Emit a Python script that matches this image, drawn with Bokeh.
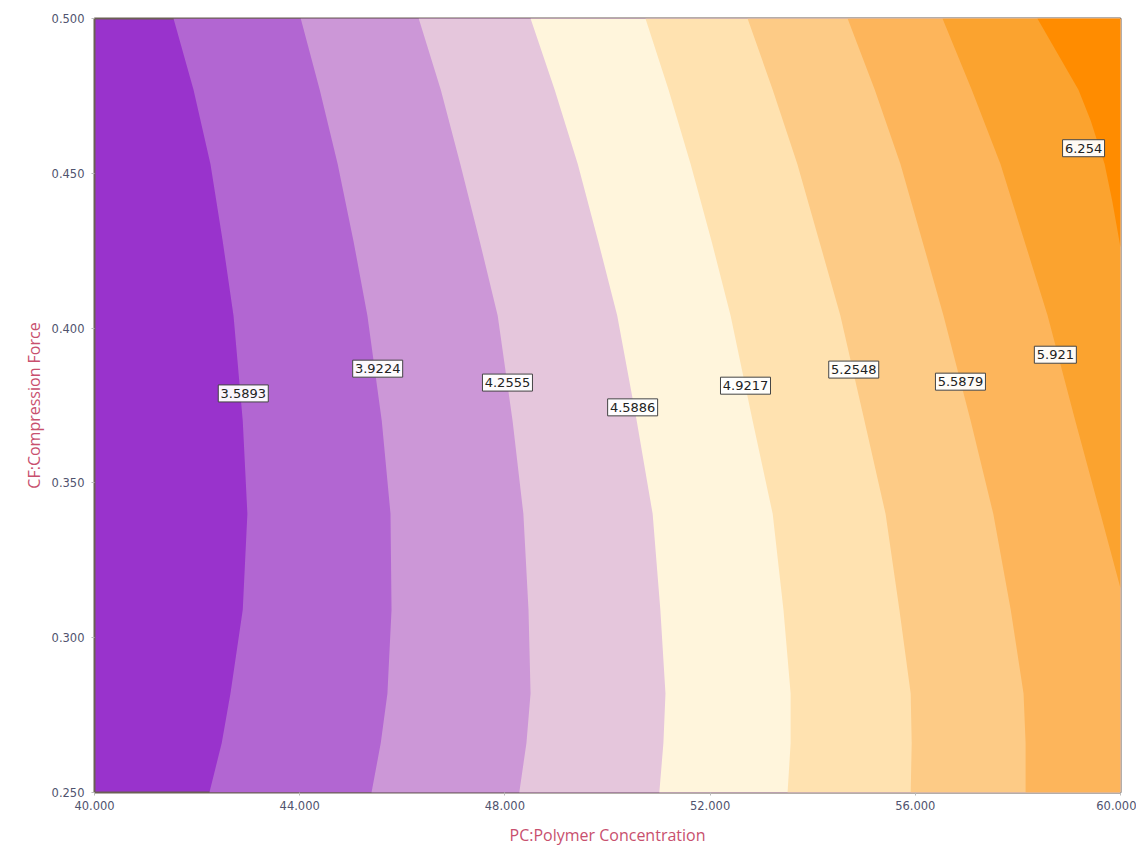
from bokeh.plotting import figure
from bokeh.models import ColumnDataSource, Range1d, FixedTicker, PrintfTickFormatter
from bokeh.core.properties import value
from bokeh.embed import file_html
from bokeh.resources import INLINE

# ---- data ----
x_ticks = [40, 44, 48, 52, 56, 60]
y_ticks = [0.25, 0.30, 0.35, 0.40, 0.45, 0.50]

levels = ["3.5893", "3.9224", "4.2555", "4.5886", "4.9217", "5.2548", "5.5879", "5.921", "6.254"]

# contour boundary positions (x at given y)
rows_y = [0.500, 0.477, 0.453, 0.428, 0.404, 0.370, 0.340, 0.309, 0.282, 0.266, 0.250]
b1_x = [41.54, 41.93, 42.26, 42.50, 42.71, 42.89, 42.98, 42.89, 42.65, 42.48, 42.24]
b2_x = [44.02, 44.39, 44.74, 45.05, 45.32, 45.60, 45.77, 45.79, 45.71, 45.58, 45.40]
b3_x = [46.32, 46.75, 47.13, 47.51, 47.86, 48.15, 48.36, 48.46, 48.50, 48.42, 48.28]
b4_x = [48.50, 48.97, 49.42, 49.82, 50.19, 50.57, 50.88, 51.03, 51.13, 51.09, 51.01]
b5_x = [50.74, 51.19, 51.62, 52.03, 52.40, 52.83, 53.22, 53.43, 53.57, 53.57, 53.51]
b6_x = [52.73, 53.22, 53.70, 54.13, 54.54, 55.01, 55.42, 55.69, 55.91, 55.93, 55.91]
b7_x = [54.68, 55.21, 55.71, 56.14, 56.55, 57.08, 57.52, 57.86, 58.11, 58.15, 58.15]
b8_y = [0.500, 0.477, 0.453, 0.428, 0.404, 0.370, 0.340, 0.316]
b8_x = [56.53, 57.10, 57.66, 58.13, 58.58, 59.12, 59.61, 60.00]
b9_y = [0.500, 0.477, 0.467, 0.453, 0.441, 0.426]
b9_x = [58.38, 59.18, 59.42, 59.69, 59.84, 60.00]

# label anchor points on the contour lines
label_x = [42.90, 45.52, 48.05, 50.49, 52.69, 54.80, 56.88, 58.73, 59.28]
label_y = [0.3789, 0.3869, 0.3824, 0.3744, 0.3814, 0.3866, 0.3827, 0.3914, 0.4581]

band_colors = ["#9933cc", "#b266d2", "#cc97d7", "#e5c6dc", "#fff5dc",
               "#ffe2b0", "#fdcb86", "#fdb55b", "#fba32f", "#ff8c00"]

boundaries = [
    (b1_x, rows_y), (b2_x, rows_y), (b3_x, rows_y), (b4_x, rows_y),
    (b5_x, rows_y), (b6_x, rows_y), (b7_x, rows_y), (b8_x, b8_y), (b9_x, b9_y),
]

x_lo, x_hi = x_ticks[0], x_ticks[-1]
y_lo, y_hi = y_ticks[0], y_ticks[-1]

p = figure(width=1136, height=848,
           x_range=Range1d(x_lo, x_hi), y_range=Range1d(y_lo, y_hi),
           output_backend="svg", toolbar_location=None,
           min_border_left=94, min_border_right=16,
           min_border_top=18, min_border_bottom=54)

p.background_fill_color = band_colors[0]
p.border_fill_color = "white"

xs, ys = [], []
for bx, by in boundaries:
    xs.append(list(bx) + [x_hi, x_hi])
    ys.append(list(by) + [by[-1], by[0]])

p.patches(xs=xs, ys=ys, fill_color=band_colors[1:], line_color=None)

box_w = [len(t) * 8 + 2 for t in levels]
src = ColumnDataSource(dict(x=label_x, y=label_y, t=levels, w=box_w))
p.rect(x="x", y="y", width="w", height=17, width_units="screen", height_units="screen",
       source=src, fill_color="white", fill_alpha=0.95, line_color="#444444", line_width=1)
p.text(x="x", y="y", text="t", source=src, text_align="center", text_baseline="middle",
       text_font=value("DejaVu Sans"), text_font_size="13px", text_color="#222222")

p.grid.visible = False
p.outline_line_color = "#6b5f55"
p.outline_line_width = 2

p.xaxis.ticker = FixedTicker(ticks=x_ticks)
p.yaxis.ticker = FixedTicker(ticks=y_ticks)
p.xaxis.formatter = PrintfTickFormatter(format="%.3f")
p.yaxis.formatter = PrintfTickFormatter(format="%.3f")
p.axis.axis_line_color = None
p.axis.major_tick_line_color = "#bbbbbb"
p.axis.major_tick_out = 3
p.axis.major_tick_in = 0
p.axis.minor_tick_line_color = None
p.axis.major_label_text_font = "DejaVu Sans"
p.axis.major_label_text_font_size = "11.5px"
p.axis.major_label_text_color = "#50536e"
p.xaxis.major_label_standoff = 5
p.yaxis.major_label_standoff = 7

p.xaxis.axis_label = "PC:Polymer Concentration"
p.yaxis.axis_label = "CF:Compression Force"
p.axis.axis_label_text_font = "Open Sans"
p.axis.axis_label_text_font_style = "normal"
p.axis.axis_label_text_font_size = "16px"
p.axis.axis_label_text_color = "#c8506e"
p.xaxis.axis_label_standoff = 11
p.yaxis.axis_label_standoff = 4

open("out.html", "w").write(file_html(p, INLINE))
